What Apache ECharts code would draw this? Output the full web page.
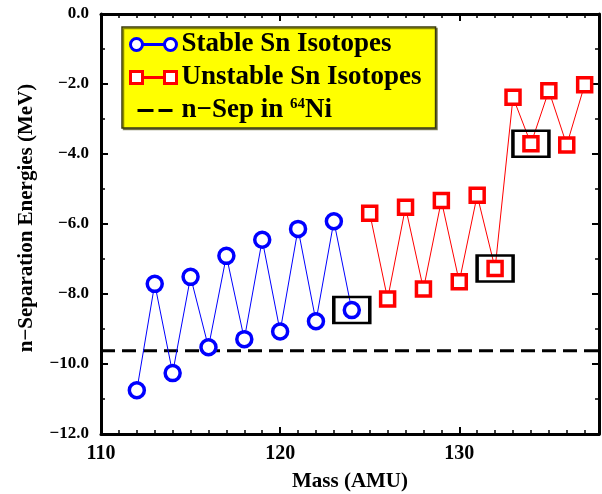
<!DOCTYPE html>
<html>
<head>
<meta charset="utf-8">
<script src="https://cdn.jsdelivr.net/npm/echarts@6/dist/echarts.min.js"></script>
<style>
    html, body { margin: 0; padding: 0; background: #fff; }
    #chart { width: 602px; height: 494px; }
</style>
</head>
<body>
<div id="chart"></div>
<script>
var stableMass = [112, 113, 114, 115, 116, 117, 118, 119, 120, 121, 122, 123, 124];
var stableSep = [-10.75, -7.71, -10.26, -7.51, -9.52, -6.91, -9.29, -6.45, -9.07, -6.14, -8.78, -5.92, -8.46];

var unstableMass = [125, 126, 127, 128, 129, 130, 131, 132, 133, 134, 135, 136, 137];
var unstableSep = [-5.69, -8.14, -5.52, -7.86, -5.33, -7.65, -5.18, -7.27, -2.38, -3.71, -2.19, -3.74, -2.02];

// neutron separation energy in 64Ni
var niSep = -9.62;
var massRange = [110, 137.8];

// isotopes marked with a black box
var boxedMass = [124, 132, 134];

var SERIF = '"Liberation Serif", "Times New Roman", serif';

// legend icons: symbol - line - symbol, like the original plot
var ICON_CIRCLES = 'path://M0,6a6,6 0 1,0 12,0a6,6 0 1,0 -12,0M12,6L34,6M34,6a6,6 0 1,0 12,0a6,6 0 1,0 -12,0';
var ICON_SQUARES = 'path://M0,0H12V12H0ZM12,6L34,6M34,0H46V12H34Z';
var ICON_DASHES = 'path://M0,0L0.01,0L0,0.01ZM7,4.5H23V7.5H7ZM28,4.5H42V7.5H28ZM46,12L45.99,12L46,11.99Z';

function pairs(xs, ys) {
    return xs.map(function (x, i) { return [x, ys[i]]; });
}

function sepOf(m) {
    var i = stableMass.indexOf(m);
    if (i >= 0) return stableSep[i];
    return unstableSep[unstableMass.indexOf(m)];
}

function xAxisOf(position, interval, tickLen, major) {
    return {
        type: 'value',
        position: position,
        min: massRange[0],
        max: massRange[1],
        interval: interval,
        splitLine: { show: false },
        axisLine: {
            show: major,
            onZero: false,
            lineStyle: { color: '#000', width: 3 }
        },
        axisTick: {
            show: true,
            inside: true,
            length: tickLen,
            lineStyle: { color: '#000', width: major ? 2 : 1.5 }
        },
        axisLabel: { show: false }
    };
}

function yAxisOf(position, showLabels) {
    return {
        type: 'value',
        position: position,
        min: -12,
        max: 0,
        interval: 2,
        splitLine: { show: false },
        axisLine: { show: true, onZero: false, lineStyle: { color: '#000', width: 3 } },
        axisTick: { show: true, inside: true, length: 7, lineStyle: { color: '#000', width: 2 } },
        minorTick: { show: true, splitNumber: 2, length: 4, lineStyle: { color: '#000', width: 1.5 } },
        axisLabel: {
            show: showLabels,
            margin: 12,
            fontFamily: SERIF,
            fontWeight: 'bold',
            fontSize: 17,
            color: '#000',
            formatter: function (v) {
                return (v < 0 ? '\u2212' : '') + Math.abs(v).toFixed(1);
            }
        }
    };
}

var chart = echarts.init(document.getElementById('chart'));

var bottomMajor = xAxisOf('bottom', 10, 7, true);
bottomMajor.axisLabel = {
    show: true,
    margin: 10,
    showMaxLabel: false,
    fontFamily: SERIF,
    fontWeight: 'bold',
    fontSize: 20,
    color: '#000'
};
bottomMajor.name = 'Mass (AMU)';
bottomMajor.nameLocation = 'middle';
bottomMajor.nameGap = 37;
bottomMajor.nameTextStyle = { fontFamily: SERIF, fontWeight: 'bold', fontSize: 21, color: '#000' };

var leftAxis = yAxisOf('left', true);
leftAxis.name = 'n\u2212Separation Energies (MeV)';
leftAxis.nameLocation = 'middle';
leftAxis.nameGap = 64;
leftAxis.nameTextStyle = { fontFamily: SERIF, fontWeight: 'bold', fontSize: 21, color: '#000', padding: [0, 0, 0, 12] };

chart.setOption({
    animation: false,
    backgroundColor: '#fff',
    grid: { left: 101, right: 3, top: 14, bottom: 60, containLabel: false, outerBoundsMode: 'none' },
    legend: {
        data: [
            { name: 'Stable Sn Isotopes', icon: ICON_CIRCLES, itemStyle: { borderWidth: 3 } },
            { name: 'Unstable Sn Isotopes', icon: ICON_SQUARES, itemStyle: { borderWidth: 3 } },
            { name: 'n\u2212Sep in 64Ni', icon: ICON_DASHES, itemStyle: { color: '#000', borderWidth: 0 } }
        ],
        orient: 'vertical',
        left: 122,
        top: 27,
        padding: [4, 14, 4, 7],
        itemWidth: 46,
        itemHeight: 12,
        itemGap: 6,
        backgroundColor: '#ffff00',
        borderColor: '#3a3a10',
        borderWidth: 1.5,
        shadowColor: 'rgba(60,60,0,0.6)',
        shadowOffsetX: 1.5,
        shadowOffsetY: 1.5,
        selectedMode: false,
        formatter: function (name) {
            if (name.indexOf('64') >= 0) {
                return 'n\u2212Sep in {sup|64}Ni';
            }
            return name;
        },
        textStyle: {
            fontFamily: SERIF,
            fontWeight: 'bold',
            fontSize: 27,
            color: '#000',
            rich: {
                sup: {
                    fontFamily: SERIF,
                    fontWeight: 'bold',
                    fontSize: 15,
                    color: '#000',
                    verticalAlign: 'top',
                    padding: [0, 0, 10, 0]
                }
            }
        }
    },
    xAxis: [
        bottomMajor,
        xAxisOf('bottom', 1, 4, false),
        xAxisOf('top', 10, 7, true),
        xAxisOf('top', 1, 4, false)
    ],
    yAxis: [
        leftAxis,
        yAxisOf('right', false)
    ],
    series: [
        {
            name: 'n\u2212Sep in 64Ni',
            type: 'line',
            z: 1,
            showSymbol: false,
            symbol: 'none',
            data: [[massRange[0], niSep], [massRange[1], niSep]],
            lineStyle: { color: '#000', width: 3, type: [14, 7] },
            itemStyle: { color: '#000' }
        },
        {
            name: 'Stable Sn Isotopes',
            type: 'line',
            z: 3,
            symbol: 'circle',
            symbolSize: 15,
            data: pairs(stableMass, stableSep),
            lineStyle: { color: '#0000ff', width: 1 },
            itemStyle: { color: '#fff', borderColor: '#0000ff', borderWidth: 3.5 }
        },
        {
            name: 'Unstable Sn Isotopes',
            type: 'line',
            z: 3,
            symbol: 'rect',
            symbolSize: 14,
            data: pairs(unstableMass, unstableSep),
            lineStyle: { color: '#ff0000', width: 1 },
            itemStyle: { color: '#fff', borderColor: '#ff0000', borderWidth: 3.5 }
        },
        {
            name: 'boxed',
            type: 'scatter',
            z: 4,
            symbol: 'rect',
            symbolSize: [36, 26],
            data: boxedMass.map(function (m) { return [m, sepOf(m)]; }),
            itemStyle: { color: 'rgba(0,0,0,0)', borderColor: '#000', borderWidth: 3, opacity: 1 },
            emphasis: { disabled: true }
        }
    ]
});
</script>
</body>
</html>
